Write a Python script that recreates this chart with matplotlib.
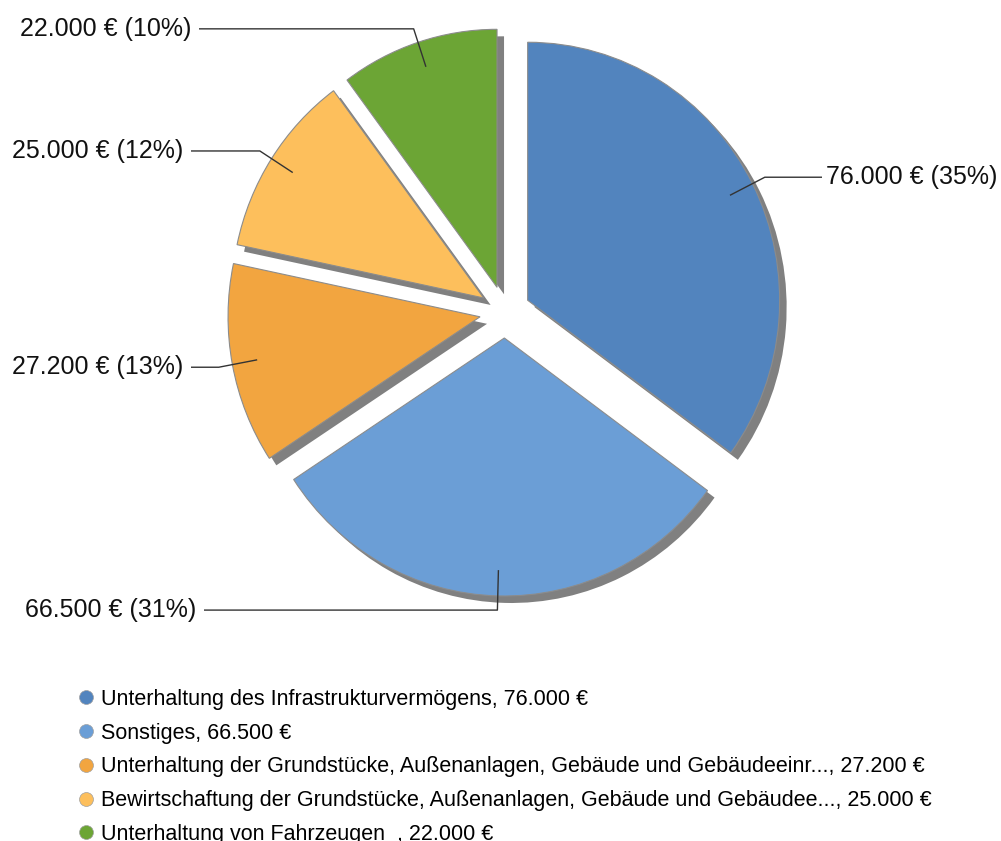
import numpy as np
import matplotlib
matplotlib.use("Agg")
import matplotlib.pyplot as plt
from matplotlib.lines import Line2D

plt.rcParams["font.family"] = ["Liberation Sans", "DejaVu Sans"]

# --- Data ---
categories = [
    "Unterhaltung des Infrastrukturvermögens",
    "Sonstiges",
    "Unterhaltung der Grundstücke, Außenanlagen, Gebäude und Gebäudeeinr...",
    "Bewirtschaftung der Grundstücke, Außenanlagen, Gebäude und Gebäudee...",
    "Unterhaltung von Fahrzeugen  ",
]
amounts = [76000, 66500, 27200, 25000, 22000]
colors = ["#5284be", "#6b9ed6", "#f2a540", "#fdbf5c", "#6ca535"]

# label text anchor x (pixels) and alignment
label_x = [826, 196, 183, 183, 191]
label_ha = ["left", "right", "right", "right", "right"]


def euro(v):
    return f"{v:,}".replace(",", ".") + " €"


# --- Layout (pixels) ---
W, H = 1001, 841
sx = 252 / 258          # pie is slightly narrower than tall
cx, cy = 505, H - 312
R = 258
expl = 26
shadow = 7

fig = plt.figure(figsize=(W / 100, H / 100), dpi=100)
ax = fig.add_axes([0, 0, 1, 1])

# shadow pie
ax.pie(amounts, radius=R, center=((cx + shadow) / sx, cy - shadow), startangle=90,
       counterclock=False, explode=[expl] * len(amounts),
       colors=["#808080"] * len(amounts), wedgeprops=dict(linewidth=0))
# main pie
ax.pie(amounts, radius=R, center=(cx / sx, cy), startangle=90,
       counterclock=False, explode=[expl] * len(amounts), colors=colors,
       wedgeprops=dict(linewidth=0.8, edgecolor="#8c8c8c"))

ax.set_aspect("auto")
ax.set_xlim(0, W / sx)
ax.set_ylim(0, H)
ax.axis("off")

# --- Data labels with leader lines ---
total = sum(amounts)
fracs = np.array(amounts) / total
start = 90 - 360 * np.concatenate([[0], np.cumsum(fracs)[:-1]])
mid = np.deg2rad(start - 180 * fracs)

for i, v in enumerate(amounts):
    dx, dy = np.cos(mid[i]), np.sin(mid[i])
    ox, oy = cx / sx + expl * dx, cy + expl * dy
    p1 = (ox + 0.9 * R * dx, oy + 0.9 * R * dy)
    p2 = (ox + 1.055 * R * dx, oy + 1.055 * R * dy)
    if label_ha[i] == "left":
        end = (label_x[i] - 4) / sx
    else:
        end = (label_x[i] + 8) / sx
    ax.plot([p1[0], p2[0], end], [p1[1], p2[1], p2[1]],
            color="#333333", lw=1.0, solid_capstyle="butt")
    ax.text(label_x[i] / sx, p2[1], f"{euro(v)} ({round(100 * v / total)}%)",
            ha=label_ha[i], va="center", fontsize=18, color="#111111")

# --- Legend ---
handles = [
    Line2D([], [], ls="", marker="o", markersize=10, markerfacecolor=c,
           markeredgecolor="#a0a0a0", markeredgewidth=0.5)
    for c in colors
]
legend_labels = [f"{c}, {euro(v)}" for c, v in zip(categories, amounts)]
fig.legend(handles, legend_labels, loc="upper left",
           bbox_to_anchor=(77 / W, 1 - 689 / H), frameon=False, fontsize=15.5,
           handlelength=0.8, handletextpad=0.3, labelspacing=0.59,
           borderpad=0, borderaxespad=0)

fig.savefig("out.png", dpi=100)
